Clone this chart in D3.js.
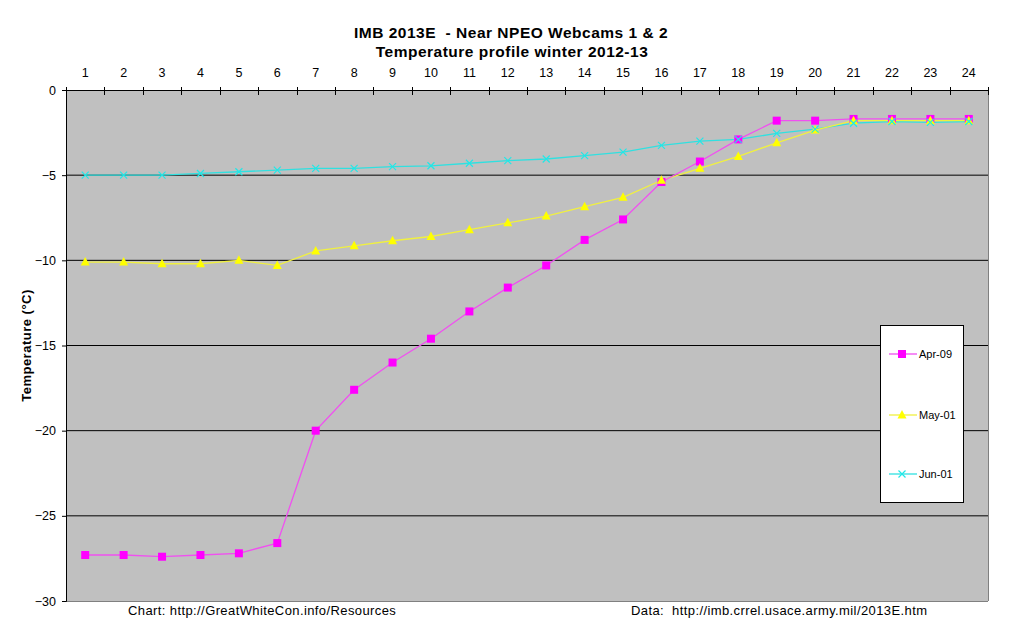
<!DOCTYPE html>
<html><head><meta charset="utf-8">
<script src="https://cdn.jsdelivr.net/npm/d3@7"></script>
<style>body{margin:0;background:#fff}text{font-family:"Liberation Sans",Arial,sans-serif;white-space:pre}</style>
</head><body><svg id="c" width="1024" height="625"></svg>
<script>
const categories = d3.range(1, 25);
const apr09 = [-27.3,-27.3,-27.4,-27.3,-27.2,-26.6,-20.0,-17.6,-16.0,-14.6,-13.0,-11.6,-10.3,-8.8,-7.6,-5.4,-4.2,-2.9,-1.8,-1.8,-1.7,-1.7,-1.7,-1.7];
const may01 = [-10.1,-10.1,-10.2,-10.2,-10.0,-10.3,-9.45,-9.15,-8.85,-8.6,-8.2,-7.8,-7.4,-6.85,-6.3,-5.3,-4.6,-3.9,-3.1,-2.35,-1.8,-1.8,-1.8,-1.8];
const jun01 = [-5.0,-5.0,-5.0,-4.9,-4.8,-4.7,-4.6,-4.6,-4.5,-4.45,-4.3,-4.15,-4.05,-3.85,-3.65,-3.25,-3.0,-2.9,-2.55,-2.3,-1.95,-1.85,-1.9,-1.85];
const yTicks = [0,-5,-10,-15,-20,-25,-30];
const seriesNames = ["Apr-09","May-01","Jun-01"];

const svg = d3.select("#c");
const L=66,R=988,T=90,B=601;
const x = d3.scaleBand().domain(categories).range([L,R]);
const y = d3.scaleLinear().domain([-30,0]).range([B,T]);

svg.append("rect").attr("x",L).attr("y",T).attr("width",R-L).attr("height",B-T).attr("fill","#c0c0c0");
svg.append("g").selectAll("line").data(yTicks.filter(v=>v!==0&&v!==-30)).join("line")
 .attr("x1",L).attr("x2",R).attr("y1",d=>y(d)).attr("y2",d=>y(d)).attr("stroke","#000").attr("stroke-width",1);
svg.append("line").attr("x1",R+0.5).attr("x2",R+0.5).attr("y1",T).attr("y2",B).attr("stroke","#808080");
svg.append("line").attr("x1",L).attr("x2",R).attr("y1",B+0.5).attr("y2",B+0.5).attr("stroke","#808080");

const ly = svg.append("g").attr("transform",`translate(${L},0)`)
 .call(d3.axisLeft(y).tickValues(yTicks).tickSize(4).tickPadding(6).tickFormat(d3.format("d")));
ly.select(".domain").attr("stroke","#000");
ly.selectAll("text").attr("font-size","12.5px").attr("fill","#000").style("font-family","Liberation Sans, Arial");

const tg = svg.append("g");
tg.append("line").attr("x1",L).attr("x2",R).attr("y1",T+0.5).attr("y2",T+0.5).attr("stroke","#000");
const bounds = d3.range(0,25).map(i=>L+i*x.bandwidth());
tg.selectAll("line.t").data(bounds).join("line").attr("class","t")
 .attr("x1",d=>Math.round(d)+0.5).attr("x2",d=>Math.round(d)+0.5).attr("y1",T-3).attr("y2",T+5).attr("stroke","#000");
tg.selectAll("text").data(categories).join("text")
 .attr("x",d=>x(d)+x.bandwidth()/2).attr("y",77).attr("text-anchor","middle").attr("font-size","12.5px").text(d=>d);

const cx = (d,i)=>x(categories[i])+x.bandwidth()/2;
const line = d3.line().x((d,i)=>cx(d,i)).y(d=>y(d));
const cols = ["#ff00ff","#ffff00","#00ffff"];
const lineCols = ["#f050f0","#f0f040","#30e0e0"];
[apr09,may01,jun01].reverse().forEach((s,ri)=>{
  const k = 2-ri;
  svg.append("path").attr("d",line(s)).attr("fill","none").attr("stroke",lineCols[k]).attr("stroke-width",1.3);
});
function marker(g,k,px,py){
  if(k===0) g.append("rect").attr("x",px-4).attr("y",py-4).attr("width",8).attr("height",8).attr("fill",cols[0]);
  else if(k===1) g.append("path").attr("d",`M${px},${py-5}L${px+4.5},${py+3.5}L${px-4.5},${py+3.5}Z`).attr("fill",cols[1]);
  else g.append("path").attr("d",`M${px-3.5},${py-3.5}L${px+3.5},${py+3.5}M${px+3.5},${py-3.5}L${px-3.5},${py+3.5}`).attr("stroke","#20e8e8").attr("stroke-width",1.2);
}
[apr09,may01,jun01].forEach((s,k)=>{
  const g = svg.append("g");
  s.forEach((v,i)=>marker(g,k,cx(v,i),y(v)));
});

svg.append("rect").attr("x",880.5).attr("y",325.5).attr("width",83).attr("height",177).attr("fill","#fff").attr("stroke","#000");
const ly2=[354,415,474];
seriesNames.forEach((n,k)=>{
  svg.append("line").attr("x1",889).attr("x2",917).attr("y1",ly2[k]).attr("y2",ly2[k]).attr("stroke",lineCols[k]).attr("stroke-width",1.3);
  marker(svg,k,902,ly2[k]);
  svg.append("text").attr("x",919).attr("y",ly2[k]+4).attr("font-size","11px").text(n);
});

svg.append("text").attr("x",511).attr("y",38).attr("text-anchor","middle").attr("font-size","15.5px").attr("letter-spacing","0.5px").attr("font-weight","bold").text("IMB 2013E  - Near NPEO Webcams 1 & 2");
svg.append("text").attr("x",512).attr("y",57).attr("text-anchor","middle").attr("font-size","15.5px").attr("letter-spacing","0.5px").attr("font-weight","bold").text("Temperature profile winter 2012-13");
svg.append("text").attr("transform",`translate(31,${(T+B)/2}) rotate(-90)`).attr("text-anchor","middle").attr("font-size","13px").attr("letter-spacing","0.5px").attr("font-weight","bold").text("Temperature (°C)");
svg.append("text").attr("x",128).attr("y",615).attr("font-size","13px").attr("letter-spacing","0.4px").text("Chart: http://GreatWhiteCon.info/Resources");
svg.append("text").attr("x",631).attr("y",615).attr("font-size","13px").attr("letter-spacing","0.4px").text("Data:  http://imb.crrel.usace.army.mil/2013E.htm");
</script></body></html>
